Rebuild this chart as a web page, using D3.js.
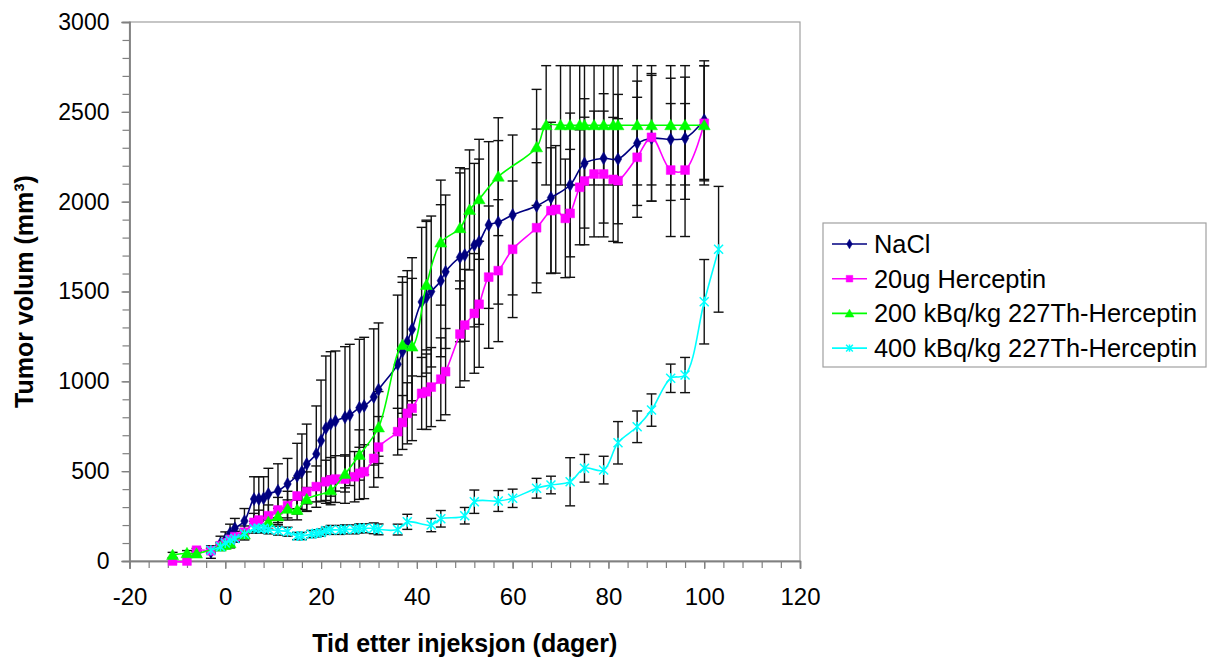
<!DOCTYPE html>
<html>
<head>
<meta charset="utf-8">
<script src="https://cdn.jsdelivr.net/npm/d3@7"></script>
<style>
  html, body { margin: 0; padding: 0; background: #fff; }
  svg { display: block; font-family: "Liberation Sans", Arial, sans-serif; }
</style>
</head>
<body>
<svg id="chart" width="1211" height="662"></svg>
<script>
// Tumour growth after injection, mean ± SD per group

const naclDays = [-3, -1, 0, 1, 2, 4, 6, 7, 8, 9, 11, 13, 15, 16, 17, 19, 20, 21, 22, 23, 25, 26, 28, 29, 31, 32,
  36, 37, 38, 39, 41, 42, 43, 45, 46, 49, 50, 52, 53, 55, 57, 60, 65, 68, 72, 75, 79, 82, 86, 89, 93, 96, 100];
const naclVolume = [50, 98, 117, 155, 182, 222, 345, 345, 349, 373, 391, 429, 473, 497, 540, 596, 670, 739, 763, 779, 800, 813, 853, 863, 913, 954,
  1095, 1167, 1221, 1290, 1442, 1468, 1500, 1560, 1610, 1690, 1703, 1758, 1777, 1870, 1885, 1926, 1976, 2022, 2093, 2213, 2241, 2237, 2325, 2353, 2347, 2353, 2454];
const naclSd = [35, 40, 45, 50, 55, 70, 124, 124, 120, 143, 150, 142, 182, 210, 222, 267, 337, 402, 402, 390, 393, 393, 381, 382, 379, 371,
  385, 384, 395, 398, 415, 422, 420, 423, 427, 470, 480, 455, 460, 464, 455, 445, 428, 420, 400, 360, 360, 360, 346, 350, 340, 340, 330];

const hercDays = [-11, -8, -6, -3, -1, 0, 1, 2, 4, 6, 7, 9, 11, 13, 15, 17, 19, 21, 22, 23, 25, 27, 28, 29, 31, 32,
  36, 37, 38, 39, 41, 42, 43, 45, 46, 49, 50, 52, 53, 55, 57, 60, 65, 68, 69, 71, 72, 74, 75, 77, 79, 81, 82, 86, 89, 93, 96, 100];
const hercVolume = [0, 0, 60, 57, 85, 100, 120, 135, 160, 215, 228, 252, 284, 308, 362, 386, 414, 441, 451, 456, 456, 469, 488, 497, 571, 634,
  720, 771, 822, 850, 933, 942, 968, 1012, 1054, 1263, 1313, 1378, 1429, 1580, 1616, 1735, 1855, 1950, 1957, 1907, 1935, 2080, 2115, 2154, 2154, 2124, 2117, 2247, 2358, 2176, 2176, 2436];
const hercSd = [0, 0, 10, 15, 20, 25, 30, 30, 35, 50, 55, 60, 70, 80, 100, 110, 115, 120, 125, 130, 135, 140, 145, 150, 160, 170,
  130, 150, 170, 180, 200, 210, 220, 230, 240, 296, 310, 333, 351, 396, 395, 380, 362, 350, 355, 330, 356, 320, 355, 350, 350, 345, 345, 334, 355, 370, 370, 320];

const th200Days = [-11, -8, -6, -1, 0, 1, 4, 9, 11, 13, 15, 17, 22, 25, 28, 32, 37, 39, 42, 45, 49, 51, 53, 57, 65,
  67, 70, 72, 74, 75, 77, 79, 81, 82, 86, 89, 93, 96, 100];
const th200Volume = [33, 43, 41, 80, 89, 98, 147, 217, 248, 290, 284, 344, 393, 484, 590, 743, 1202, 1193, 1536, 1772, 1852, 1954, 2013, 2139, 2302,
  2425, 2425, 2425, 2425, 2425, 2425, 2425, 2425, 2425, 2425, 2425, 2425, 2425, 2425];
const th200Sd = [15, 15, 15, 20, 20, 25, 30, 40, 45, 50, 55, 65, 80, 100, 140, 200, 380, 380, 361, 348, 337, 334, 334, 328, 323,
  332, 332, 332, 332, 332, 332, 332, 332, 332, 332, 332, 332, 332, 332];

const th400Days = [-3, -1, 0, 1, 2, 4, 6, 7, 8, 9, 11, 13, 15, 16, 18, 19, 20, 21, 22, 24, 25, 27, 28, 29, 31, 32,
  36, 38, 43, 45, 50, 52, 57, 60, 65, 68, 72, 75, 79, 82, 86, 89, 93, 96, 100, 103];
const th400Volume = [60, 80, 100, 115, 125, 150, 180, 182, 182, 176, 169, 163, 139, 139, 150, 154, 158, 169, 173, 173, 176, 176, 182, 182, 182, 176,
  175, 218, 200, 235, 252, 330, 334, 349, 405, 423, 441, 516, 506, 658, 747, 840, 1017, 1035, 1443, 1735];
const th400Sd = [10, 12, 15, 15, 18, 20, 25, 25, 25, 25, 25, 25, 20, 20, 20, 20, 20, 20, 25, 25, 25, 25, 25, 25, 30, 30,
  30, 42, 37, 46, 46, 65, 58, 51, 55, 49, 134, 77, 77, 118, 88, 90, 79, 98, 235, 350];

const seriesNames = ["NaCl", "20ug Herceptin", "200 kBq/kg 227Th-Herceptin", "400 kBq/kg 227Th-Herceptin"];
const seriesColors = ["#000080", "#ff00ff", "#00ff00", "#00ffff"];
const seriesMarkers = ["diamond", "square", "triangle", "star"];

const xTicks = [-20, 0, 20, 40, 60, 80, 100, 120];
const yTicks = [0, 500, 1000, 1500, 2000, 2500, 3000];

const xTitle = "Tid etter injeksjon (dager)";
const yTitle = "Tumor volum (mm³)";

// Series table assembled from the arrays above
const raw = [
  [naclDays, naclVolume, naclSd],
  [hercDays, hercVolume, hercSd],
  [th200Days, th200Volume, th200Sd],
  [th400Days, th400Volume, th400Sd]
];
const series = raw.map(([days, vol, sd], i) => ({
  name: seriesNames[i],
  color: seriesColors[i],
  marker: seriesMarkers[i],
  points: days.map((d, j) => ({ x: d, y: vol[j], e: sd[j] }))
}));

const svg = d3.select("#chart");
const plotLeft = 129.5, plotRight = 800, plotTop = 22, plotBottom = 561;

const x = d3.scaleLinear().domain([-20, 120]).range([plotLeft, plotRight]);
const y = d3.scaleLinear().domain([0, 3000]).range([plotBottom, plotTop]);

const axisColor = "#808080";
const plainNumber = d => String(d);   // ASCII hyphen for negatives

// Plot frame (top and right edges)
svg.append("rect")
  .attr("x", plotLeft).attr("y", plotTop)
  .attr("width", plotRight - plotLeft).attr("height", plotBottom - plotTop)
  .attr("fill", "none").attr("stroke", "#a0a0a0").attr("stroke-width", 1.2);

// Minor ticks
const xMinor = svg.append("g").attr("transform", `translate(0,${plotBottom})`)
  .call(d3.axisBottom(x).tickValues(d3.range(-20, 121, 4)).tickSize(7).tickFormat(""));
const yMinor = svg.append("g").attr("transform", `translate(${plotLeft},0)`)
  .call(d3.axisLeft(y).tickValues(d3.range(0, 3001, 100)).tickSize(7).tickFormat(""));

// Major ticks and labels
const xAxis = svg.append("g").attr("transform", `translate(0,${plotBottom})`)
  .call(d3.axisBottom(x).tickValues(xTicks).tickSize(8).tickPadding(19).tickFormat(plainNumber));
const yAxis = svg.append("g").attr("transform", `translate(${plotLeft},0)`)
  .call(d3.axisLeft(y).tickValues(yTicks).tickSize(8).tickPadding(12).tickFormat(plainNumber));

[xMinor, yMinor, xAxis, yAxis].forEach(g => {
  g.selectAll("path.domain").attr("stroke", axisColor).attr("stroke-width", 1.4);
  g.selectAll(".tick line").attr("stroke", axisColor).attr("stroke-width", 1.2);
});
xAxis.selectAll("text").attr("font-size", 24).attr("fill", "#000")
  .attr("font-family", "'Liberation Sans', Arial, sans-serif");
yAxis.selectAll("text").attr("font-size", 23).attr("fill", "#000")
  .attr("font-family", "'Liberation Sans', Arial, sans-serif");

// Axis titles
svg.append("text")
  .attr("x", (plotLeft + plotRight) / 2).attr("y", 652)
  .attr("text-anchor", "middle")
  .attr("font-size", 25).attr("font-weight", "bold")
  .text(xTitle);

svg.append("text")
  .attr("transform", `translate(33,${(plotTop + plotBottom) / 2}) rotate(-90)`)
  .attr("text-anchor", "middle")
  .attr("font-size", 25).attr("font-weight", "bold")
  .text(yTitle);

// Error bars
const cap = 5;
const errG = svg.append("g").attr("stroke", "#111").attr("stroke-width", 1.4).attr("fill", "none");
series.forEach(s => {
  s.points.filter(p => p.e > 0).forEach(p => {
    const px = x(p.x), y1 = y(p.y + p.e), y0 = y(Math.max(0, p.y - p.e));
    errG.append("line").attr("x1", px).attr("x2", px).attr("y1", y1).attr("y2", y0);
    errG.append("line").attr("x1", px - cap).attr("x2", px + cap).attr("y1", y1).attr("y2", y1);
    errG.append("line").attr("x1", px - cap).attr("x2", px + cap).attr("y1", y0).attr("y2", y0);
  });
});

// Marker drawing
function drawMarker(g, kind, color, cx, cy, scale) {
  const k = scale || 1;
  if (kind === "star") {
    const r = 4.5 * k;
    const p = `M${cx - r},${cy - r}L${cx + r},${cy + r}M${cx - r},${cy + r}L${cx + r},${cy - r}M${cx},${cy - r * 1.1}L${cx},${cy + r * 1.1}`;
    g.append("path").attr("d", p).attr("stroke", color).attr("stroke-width", 1.5).attr("fill", "none");
    return;
  }
  const type = kind === "diamond" ? d3.symbolDiamond : kind === "square" ? d3.symbolSquare : d3.symbolTriangle;
  const size = (kind === "diamond" ? 48 : kind === "square" ? 78 : 62) * k * k;
  g.append("path")
    .attr("d", d3.symbol().type(type).size(size)())
    .attr("transform", `translate(${cx},${cy + (kind === "triangle" ? 1 : 0)})`)
    .attr("fill", color).attr("stroke", color).attr("stroke-width", 0.5);
}

// Smoothed lines with markers
const line = d3.line().x(d => x(d.x)).y(d => y(d.y)).curve(d3.curveCatmullRom.alpha(0.5));
series.forEach(s => {
  const g = svg.append("g");
  g.append("path").datum(s.points).attr("d", line)
    .attr("fill", "none").attr("stroke", s.color).attr("stroke-width", 1.6);
  s.points.forEach(p => drawMarker(g, s.marker, s.color, x(p.x), y(p.y), 1));
});

// Legend
const lg = svg.append("g");
lg.append("rect").attr("x", 823).attr("y", 223).attr("width", 383).attr("height", 144)
  .attr("fill", "#fff").attr("stroke", "#a0a0a0").attr("stroke-width", 1.2);
series.forEach((s, i) => {
  const cy = 244 + i * 34.7;
  lg.append("line").attr("x1", 832).attr("x2", 867).attr("y1", cy).attr("y2", cy)
    .attr("stroke", s.color).attr("stroke-width", 1.6);
  drawMarker(lg, s.marker, s.color, 849.5, cy, 0.75);
  lg.append("text").attr("x", 874).attr("y", cy).attr("dy", "0.35em")
    .attr("font-size", 25.4).attr("fill", "#000").text(s.name);
});
</script>
</body>
</html>
